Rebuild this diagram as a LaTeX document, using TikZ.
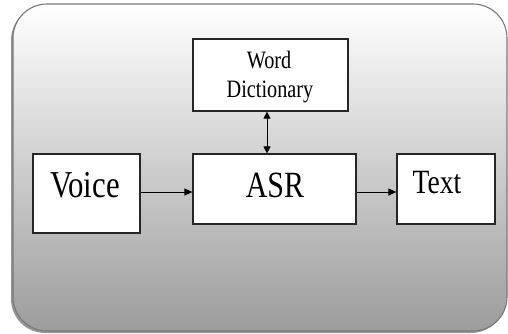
\documentclass[tikz,border=0pt]{standalone}
\usepackage{fontspec}
\setmainfont{Liberation Serif}
\newfontfamily\narrowserif[FakeStretch=0.81]{Liberation Serif}
\usetikzlibrary{arrows.meta}
\definecolor{framegray}{RGB}{120,120,120}
\definecolor{bottomgray}{RGB}{156,156,156}
\definecolor{shadowgray}{RGB}{150,150,150}
\tikzset{
  blockbox/.style={draw=black!85, line width=1.2pt, fill=white, minimum width=#1, inner sep=0pt},
  lbl/.style={anchor=base, inner sep=0pt, text=black},
  flow/.style={line width=1pt, -{Triangle[length=8pt,width=7pt]}},
  twoway/.style={line width=1pt, {Triangle[length=7pt,width=7pt]}-{Triangle[length=7pt,width=7pt]}}
}
\begin{document}
\begin{tikzpicture}[x=1pt,y=-1pt]
\useasboundingbox (0,0) rectangle (508,333);
% frame with shadow
\fill[shadowgray, rounded corners=34pt] (11,6) rectangle (505,333);
\draw[framegray, line width=1.1pt, rounded corners=34pt, top color=white, bottom color=bottomgray] (13,4) rectangle (507,331);
% boxes
\node[blockbox=107pt, minimum height=79pt] (voice) at (86.5,193.5) {};
\node[blockbox=163pt, minimum height=70pt] (asr) at (274.5,189) {};
\node[blockbox=98pt, minimum height=70pt] (text) at (446,189) {};
\node[blockbox=155pt, minimum height=72pt] (dict) at (270.5,75) {};
% labels
\node[lbl, font=\narrowserif\fontsize{38}{40}\selectfont] (voicel) at (85,197) {Voice};
\node[lbl, font=\narrowserif\fontsize{37}{40}\selectfont] (asrl) at (275,197) {ASR};
\node[lbl, font=\narrowserif\fontsize{34}{36}\selectfont] (textl) at (437,193) {Text};
\node[lbl, font=\narrowserif\fontsize{25}{27}\selectfont] (wordl) at (269,68) {Word};
\node[lbl, font=\narrowserif\fontsize{25}{27}\selectfont] (dictl) at (270,97) {Dictionary};
% connectors
\coordinate (v1) at (voice.east |- 0,192);
\coordinate (a1) at (asr.west |- 0,192);
\coordinate (a2) at (asr.east |- 0,192);
\coordinate (t1) at (text.west |- 0,192);
\draw[flow] (v1) -- (a1);
\draw[flow] (a2) -- (t1);
\coordinate (d1) at (dict.south -| 267,0);
\coordinate (a3) at (asr.north -| 267,0);
\draw[twoway] (d1) -- (a3);
\end{tikzpicture}
\end{document}
